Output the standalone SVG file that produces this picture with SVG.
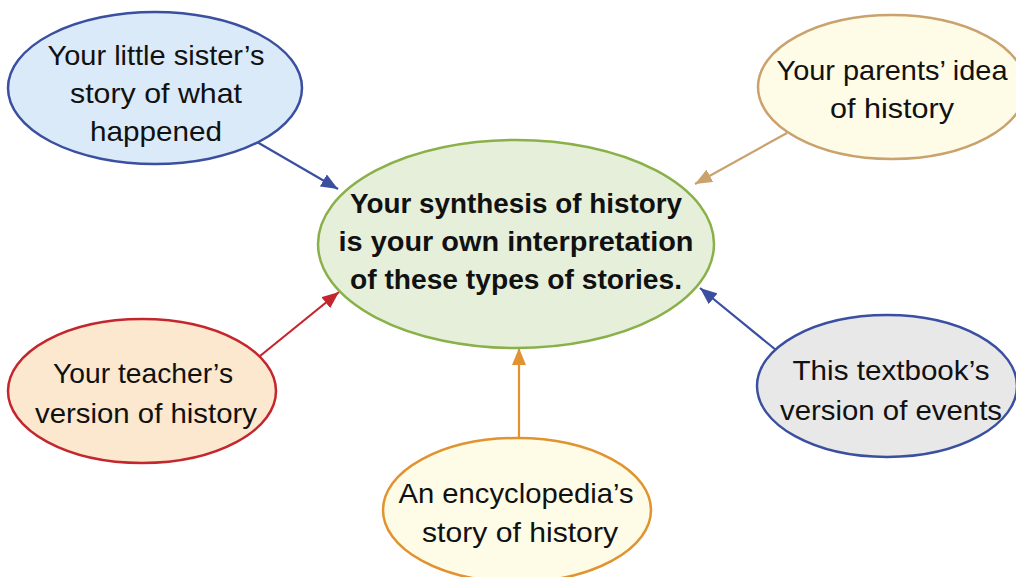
<svg xmlns="http://www.w3.org/2000/svg" width="1016" height="577" viewBox="0 0 1016 577">
<style>
.t{font-family:"Liberation Sans",Arial,sans-serif;font-size:28px;fill:#111;text-anchor:middle}
.b{font-weight:bold;font-size:27px}
.n{stroke-width:2.5}
.c{stroke-width:2.2;fill:none}
</style>
<defs>
<marker id="mBlue" markerUnits="userSpaceOnUse" markerWidth="18" markerHeight="14" refX="17" refY="7" orient="auto"><path d="M0,0 L17,7 L0,14 Z" fill="#3a4fa0"/></marker>
<marker id="mTan" markerUnits="userSpaceOnUse" markerWidth="18" markerHeight="14" refX="17" refY="7" orient="auto"><path d="M0,0 L17,7 L0,14 Z" fill="#c9a26e"/></marker>
<marker id="mRed" markerUnits="userSpaceOnUse" markerWidth="18" markerHeight="14" refX="17" refY="7" orient="auto"><path d="M0,0 L17,7 L0,14 Z" fill="#c4262e"/></marker>
<marker id="mOrange" markerUnits="userSpaceOnUse" markerWidth="18" markerHeight="14" refX="17" refY="7" orient="auto"><path d="M0,0 L17,7 L0,14 Z" fill="#e0932f"/></marker>
</defs>
<rect width="1016" height="577" fill="#fff"/>
<g id="connectors">
<line class="c" x1="257" y1="142" x2="338" y2="189" stroke="#3a4fa0" marker-end="url(#mBlue)"/>
<line class="c" x1="787" y1="133" x2="695" y2="184" stroke="#c9a26e" marker-end="url(#mTan)"/>
<line class="c" x1="260" y1="356" x2="339" y2="292" stroke="#c4262e" marker-end="url(#mRed)"/>
<line class="c" x1="776" y1="350" x2="700" y2="288" stroke="#3a4fa0" marker-end="url(#mBlue)"/>
<line class="c" x1="519" y1="437" x2="519" y2="348" stroke="#e0932f" marker-end="url(#mOrange)"/>
</g>
<g id="center">
<ellipse class="n" cx="516" cy="244" rx="198" ry="104" fill="#e6efd9" stroke="#8ab04a"/>
<text class="t b" x="516" y="213" textLength="332" lengthAdjust="spacingAndGlyphs">Your synthesis of history</text>
<text class="t b" x="516" y="251" textLength="355" lengthAdjust="spacingAndGlyphs">is your own interpretation</text>
<text class="t b" x="516" y="289" textLength="332" lengthAdjust="spacingAndGlyphs">of these types of stories.</text>
</g>
<g id="sister">
<ellipse class="n" cx="155" cy="88" rx="147" ry="76" fill="#daeaf8" stroke="#3a4fa0"/>
<text class="t" x="156" y="65" textLength="217" lengthAdjust="spacingAndGlyphs">Your little sister’s</text>
<text class="t" x="156" y="103" textLength="172" lengthAdjust="spacingAndGlyphs">story of what</text>
<text class="t" x="156" y="141" textLength="132" lengthAdjust="spacingAndGlyphs">happened</text>
</g>
<g id="parents">
<ellipse class="n" cx="892" cy="87" rx="134" ry="72" fill="#fefbe6" stroke="#c9a26e"/>
<text class="t" x="892" y="80" textLength="231" lengthAdjust="spacingAndGlyphs">Your parents’ idea</text>
<text class="t" x="892" y="118" textLength="124" lengthAdjust="spacingAndGlyphs">of history</text>
</g>
<g id="teacher">
<ellipse class="n" cx="142" cy="391" rx="134" ry="72" fill="#fbe8cf" stroke="#c4262e"/>
<text class="t" x="143" y="383" textLength="180" lengthAdjust="spacingAndGlyphs">Your teacher’s</text>
<text class="t" x="146" y="423" textLength="222" lengthAdjust="spacingAndGlyphs">version of history</text>
</g>
<g id="textbook">
<ellipse class="n" cx="887" cy="386" rx="130" ry="71" fill="#e8e8e8" stroke="#3a4fa0"/>
<text class="t" x="891" y="380" textLength="197" lengthAdjust="spacingAndGlyphs">This textbook’s</text>
<text class="t" x="891" y="420" textLength="222" lengthAdjust="spacingAndGlyphs">version of events</text>
</g>
<g id="encyclopedia">
<ellipse class="n" cx="517" cy="510" rx="134" ry="72" fill="#fefbe6" stroke="#e0932f"/>
<text class="t" x="516" y="503" textLength="235" lengthAdjust="spacingAndGlyphs">An encyclopedia’s</text>
<text class="t" x="520" y="542" textLength="196" lengthAdjust="spacingAndGlyphs">story of history</text>
</g>
</svg>
